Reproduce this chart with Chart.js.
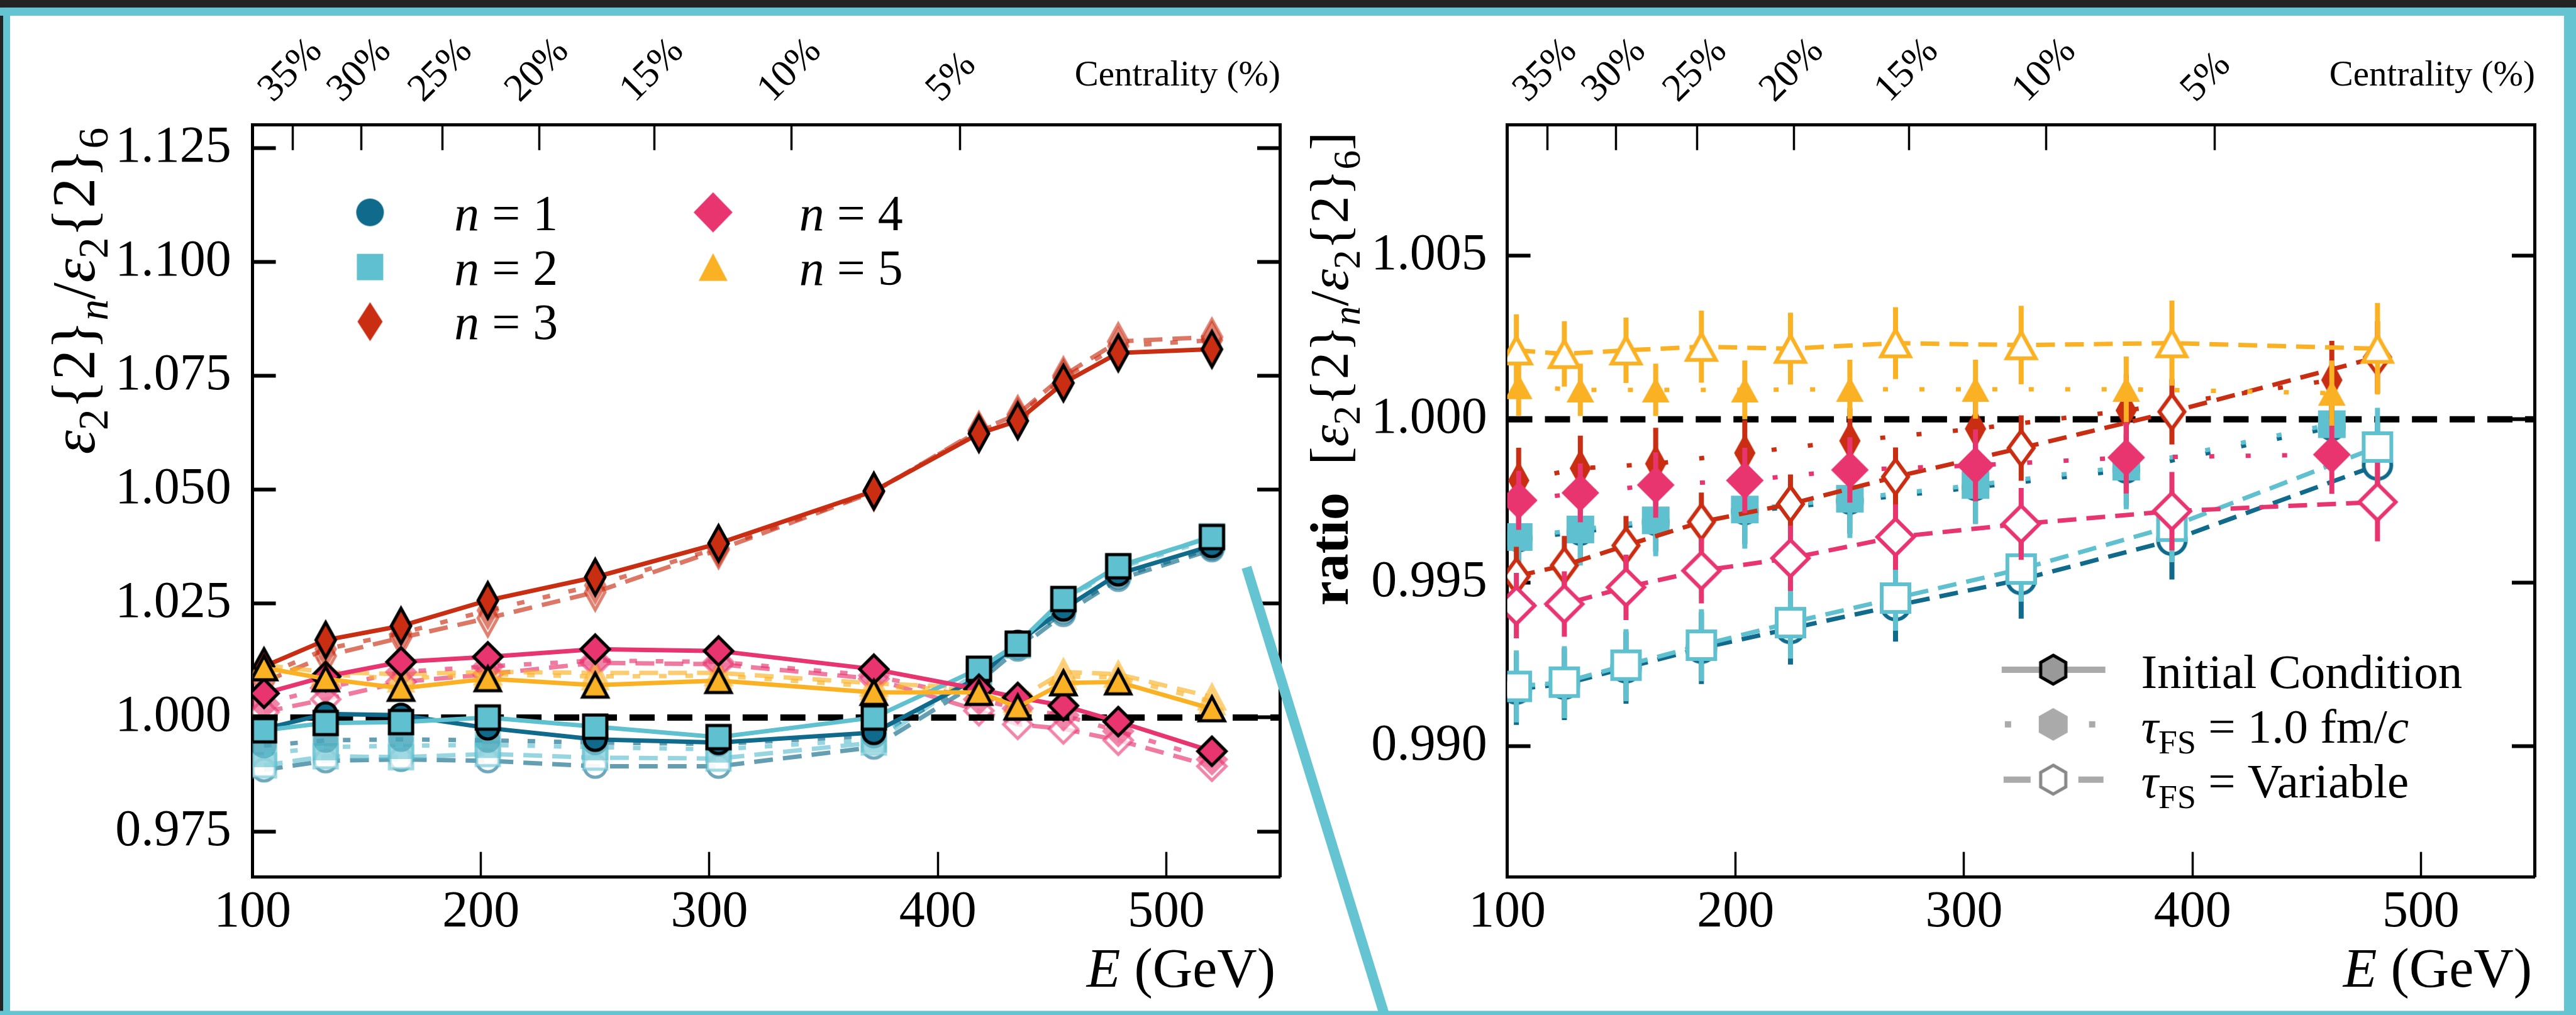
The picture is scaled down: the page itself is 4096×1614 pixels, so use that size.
<!DOCTYPE html>
<html>
<head>
<meta charset="utf-8">
<script src="https://cdn.jsdelivr.net/npm/chart.js@4.4.1/dist/chart.umd.min.js"></script>
<style>
  html, body { margin: 0; padding: 0; background: #fff; overflow: hidden; }
  #wrap { position: relative; width: 4096px; height: 1614px; background: #fff; }
  #wrap canvas { position: absolute; top: 0; }
  #frame { position: absolute; left: 0; top: 0; pointer-events: none; }
</style>
</head>
<body>
<div id="wrap">
  <canvas id="left" width="2065" height="1614" style="left:0px"></canvas>
  <canvas id="right" width="2031" height="1614" style="left:2065px"></canvas>
  <svg id="frame" width="4096" height="1614"></svg>
</div>
<script>
// left panel: eps2{2}_n / eps2{2}_6 vs E
const energy = [105, 132, 165, 203, 250, 304, 372, 418, 435, 455, 479, 520];
const icN1 = [0.9975, 1.0008, 1.0005, 0.9977, 0.9952, 0.9945, 0.9967, 1.0088, 1.0165, 1.0238, 1.0315, 1.0377];
const icN2 = [0.9972, 0.9988, 0.9990, 1.0000, 0.9980, 0.9957, 1.0000, 1.0107, 1.0162, 1.0260, 1.0332, 1.0396];
const icN3 = [1.0112, 1.0170, 1.0201, 1.0257, 1.0308, 1.0382, 1.0497, 1.0623, 1.0651, 1.0734, 1.0800, 1.0808];
const icN4 = [1.0053, 1.0090, 1.0122, 1.0133, 1.0150, 1.0146, 1.0106, 1.0062, 1.0044, 1.0026, 0.9991, 0.9926];
const icN5 = [1.0109, 1.0085, 1.0064, 1.0085, 1.0071, 1.0081, 1.0055, 1.0055, 1.0023, 1.0076, 1.0078, 1.0019];
const tau1N1 = [0.9938, 0.9950, 0.9952, 0.9950, 0.9945, 0.9942, 0.9960, 1.0082, 1.0155, 1.0232, 1.0308, 1.0372];
const tau1N2 = [0.9920, 0.9935, 0.9938, 0.9940, 0.9935, 0.9930, 0.9952, 1.0100, 1.0158, 1.0255, 1.0328, 1.0392];
const tau1N3 = [1.0092, 1.0150, 1.0185, 1.0235, 1.0290, 1.0372, 1.0496, 1.0628, 1.0660, 1.0745, 1.0815, 1.0828];
const tau1N4 = [1.0030, 1.0065, 1.0100, 1.0112, 1.0125, 1.0122, 1.0092, 1.0040, 1.0020, 1.0005, 0.9970, 0.9908];
const tau1N5 = [1.0112, 1.0095, 1.0085, 1.0095, 1.0090, 1.0092, 1.0068, 1.0060, 1.0035, 1.0090, 1.0088, 1.0035];
const varN1 = [0.9885, 0.9905, 0.9908, 0.9905, 0.9893, 0.9893, 0.9935, 1.0078, 1.0150, 1.0226, 1.0303, 1.0368];
const varN2 = [0.9895, 0.9915, 0.9913, 0.9920, 0.9912, 0.9910, 0.9945, 1.0098, 1.0160, 1.0258, 1.0330, 1.0398];
const varN3 = [1.0078, 1.0135, 1.0175, 1.0218, 1.0275, 1.0368, 1.0495, 1.0630, 1.0665, 1.0750, 1.0825, 1.0835];
const varN4 = [1.0012, 1.0040, 1.0078, 1.0095, 1.0120, 1.0117, 1.0085, 1.0015, 0.9985, 0.9975, 0.9950, 0.9893];
const varN5 = [1.0115, 1.0100, 1.0095, 1.0100, 1.0098, 1.0098, 1.0075, 1.0065, 1.0040, 1.0100, 1.0095, 1.0045];

// right panel: ratio to initial condition, with errors
const energyFixed = [105, 132, 165, 204, 250, 305, 371, 461];
const energyVar = [104, 125, 152, 185, 224, 270, 325, 391, 481];
const fixN1 = [0.99635, 0.99655, 0.99685, 0.99718, 0.99750, 0.99792, 0.99845, 0.99975];
const fixN2 = [0.99640, 0.99663, 0.99691, 0.99724, 0.99757, 0.99799, 0.99855, 0.99985];
const fixN3 = [0.99813, 0.99850, 0.99864, 0.99897, 0.99934, 0.99971, 1.00027, 1.00120];
const fixN4 = [0.99752, 0.99775, 0.99799, 0.99813, 0.99845, 0.99859, 0.99883, 0.99892];
const fixN5 = [1.00100, 1.00090, 1.00090, 1.00090, 1.00092, 1.00092, 1.00092, 1.00080];
const fixErrN1 = [0.0009, 0.0009, 0.0009, 0.0010, 0.0010, 0.0011, 0.0011, 0.0012];
const fixErrN2 = [0.0010, 0.0011, 0.0011, 0.0012, 0.0012, 0.0012, 0.0013, 0.0013];
const fixErrN3 = [0.0010, 0.0010, 0.0011, 0.0010, 0.0010, 0.0011, 0.0011, 0.0012];
const fixErrN4 = [0.0009, 0.0009, 0.0010, 0.0010, 0.0010, 0.0011, 0.0011, 0.0012];
const fixErrN5 = [0.0009, 0.0008, 0.0008, 0.0009, 0.0009, 0.0009, 0.0010, 0.0010];
const varRN1 = [0.99175, 0.99190, 0.99240, 0.99300, 0.99360, 0.99430, 0.99510, 0.99630, 0.99860];
const varRN2 = [0.99183, 0.99196, 0.99248, 0.99309, 0.99378, 0.99453, 0.99542, 0.99673, 0.99915];
const varRN3 = [0.99520, 0.99553, 0.99614, 0.99686, 0.99741, 0.99824, 0.99912, 1.00023, 1.00190];
const varRN4 = [0.99430, 0.99435, 0.99486, 0.99537, 0.99575, 0.99640, 0.99680, 0.99719, 0.99747];
const varRN5 = [1.00211, 1.00200, 1.00211, 1.00222, 1.00216, 1.00233, 1.00227, 1.00233, 1.00216];
const varErrN1 = [0.0011, 0.0011, 0.0011, 0.0011, 0.0011, 0.0011, 0.0012, 0.0012, 0.0013];
const varErrN2 = [0.0011, 0.0011, 0.0011, 0.0011, 0.0011, 0.0010, 0.0010, 0.0011, 0.0012];
const varErrN3 = [0.0009, 0.0009, 0.0009, 0.0009, 0.0009, 0.0009, 0.0010, 0.0010, 0.0011];
const varErrN4 = [0.0010, 0.0010, 0.0010, 0.0010, 0.0010, 0.0010, 0.0011, 0.0012, 0.0012];
const varErrN5 = [0.0011, 0.0010, 0.0010, 0.0011, 0.0011, 0.0011, 0.0012, 0.0013, 0.0014];

// axes
const energyRange = [100, 550];
const energyTicks = [100, 200, 300, 400, 500];
const centralityE = [117.5, 147.7, 183.2, 225.5, 275.8, 336.0, 409.8];
const centralityLabels = ['35%', '30%', '25%', '20%', '15%', '10%', '5%'];
const leftRange = [0.965, 1.130];
const leftTicks = [0.975, 1.000, 1.025, 1.050, 1.075, 1.100, 1.125];
const rightRange = [0.986, 1.009];
const rightTicks = [0.990, 0.995, 1.000, 1.005];
const unity = 1.0;

const S = 0.999;
const SERIF = '"Liberation Serif", "DejaVu Serif", serif';
const colors = ['#0f6a8b', '#5fc0cf', '#c92d12', '#e8346f', '#fbb124'];
const shapes = ['o', 's', 'd', 'D', '^'];

function rgba(hex, a) {
  const n = parseInt(hex.slice(1), 16);
  return `rgba(${n >> 16},${(n >> 8) & 255},${n & 255},${a})`;
}

// marker bitmaps, w/h are the path size in px
function mk(shape, w, h, fill, stroke, lw) {
  w *= S; h *= S; lw = (lw || 0) * S;
  const pad = lw * 2 + 4;
  const c = document.createElement('canvas');
  c.width = Math.ceil(w + pad * 2);
  c.height = Math.ceil(h + pad * 2);
  const g = c.getContext('2d');
  const cx = c.width / 2, cy = c.height / 2, rx = w / 2, ry = h / 2;
  g.beginPath();
  if (shape === 'o') g.ellipse(cx, cy, rx, ry, 0, 0, Math.PI * 2);
  else if (shape === 's') g.rect(cx - rx, cy - ry, w, h);
  else if (shape === 'd' || shape === 'D') {
    g.moveTo(cx, cy - ry); g.lineTo(cx + rx, cy); g.lineTo(cx, cy + ry); g.lineTo(cx - rx, cy); g.closePath();
  } else if (shape === '^') {
    g.moveTo(cx, cy - ry); g.lineTo(cx + rx, cy + ry); g.lineTo(cx - rx, cy + ry); g.closePath();
  } else if (shape === 'h') {
    for (let k = 0; k < 6; k++) {
      const a = -Math.PI / 2 + k * Math.PI / 3;
      g.lineTo(cx + rx * Math.cos(a) / Math.cos(Math.PI / 6), cy + ry * Math.sin(a));
    }
    g.closePath();
  }
  if (fill) { g.fillStyle = fill; g.fill(); }
  if (stroke && lw) { g.lineWidth = lw; g.strokeStyle = stroke; g.lineJoin = 'miter'; g.stroke(); }
  return c;
}

const sizeIC = { o: [35, 35], s: [37, 37], d: [31, 56], D: [45, 45], '^': [40, 38] };
const sizeFill = { o: [40, 40], s: [42, 42], d: [36, 64], D: [52, 52], '^': [46, 44] };
const sizeRFill = { o: [44, 44], s: [44, 44], d: [34, 62], D: [60, 60], '^': [44, 40] };
const sizeRHollow = { o: [44, 44], s: [44, 44], d: [40, 55], D: [58, 58], '^': [46, 42] };
const sizeLegend = { o: [44, 44], s: [42, 42], d: [40, 62], D: [62, 64], '^': [46, 44] };

function pts(xs, ys) { return xs.map((x, i) => ({ x: x, y: ys[i] })); }

function lineSet(xs, ys, color, dash, marker, extra) {
  return Object.assign({
    data: pts(xs, ys), borderColor: color, borderWidth: 7 * S, borderDash: dash,
    borderCapStyle: 'butt', pointStyle: marker, pointRadius: 20, tension: 0, fill: false,
    xAxisID: 'x', yAxisID: 'y'
  }, extra || {});
}

function refLine() {
  return {
    data: [{ x: energyRange[0], y: unity }, { x: energyRange[1], y: unity }],
    borderColor: '#000', borderWidth: 10 * S, borderDash: [40 * S, 20 * S], borderCapStyle: 'butt',
    pointRadius: 0, tension: 0, fill: false, xAxisID: 'x', yAxisID: 'y'
  };
}

// ---------- left datasets (bottom -> top) ----------
const icL = [icN1, icN2, icN3, icN4, icN5];
const tauL = [tau1N1, tau1N2, tau1N3, tau1N4, tau1N5];
const varL = [varN1, varN2, varN3, varN4, varN5];
const leftSets = [];
varL.forEach((ys, i) => {
  const sh = shapes[i], sz = sizeIC[sh];
  leftSets.push(lineSet(energy, ys, rgba(colors[i], 0.65), [30 * S, 16 * S],
    mk(sh, sz[0], sz[1], 'rgba(255,255,255,0.75)', rgba(colors[i], 0.6), 5)));
});
tauL.forEach((ys, i) => {
  const sh = shapes[i], sz = sizeFill[sh];
  leftSets.push(lineSet(energy, ys, rgba(colors[i], 0.65), [12 * S, 30 * S],
    mk(sh, sz[0], sz[1], rgba(colors[i], 0.6), null, 0)));
});
leftSets.push(refLine());
icL.forEach((ys, i) => {
  const sh = shapes[i], sz = sizeIC[sh];
  leftSets.push(lineSet(energy, ys, colors[i], [], mk(sh, sz[0], sz[1], colors[i], '#000', 5)));
});
leftSets.forEach((d, i) => { d.order = leftSets.length - i; });

// ---------- right datasets (bottom -> top) ----------
const fixR = [fixN1, fixN2, fixN3, fixN4, fixN5];
const fixErr = [fixErrN1, fixErrN2, fixErrN3, fixErrN4, fixErrN5];
const varR = [varRN1, varRN2, varRN3, varRN4, varRN5];
const varErr = [varErrN1, varErrN2, varErrN3, varErrN4, varErrN5];
const rightSets = [refLine()];
for (let i = 0; i < 5; i++) {
  const sh = shapes[i];
  const f = sizeRFill[sh], h = sizeRHollow[sh];
  rightSets.push(lineSet(energyFixed, fixR[i], colors[i], [8 * S, 50 * S],
    mk(sh, f[0], f[1], colors[i], null, 0), { errors: fixErr[i] }));
  rightSets.push(lineSet(energyVar, varR[i], colors[i], [30 * S, 16 * S],
    mk(sh, h[0], h[1], '#fff', colors[i], 6), { errors: varErr[i] }));
}
rightSets.forEach((d, i) => { d.order = rightSets.length - i; });

// ---------- plugins ----------
const errorBars = {
  id: 'errorBars',
  beforeDatasetDraw(chart, args) {
    const ds = chart.data.datasets[args.index];
    if (!ds.errors) return;
    const { ctx, chartArea: a } = chart;
    const xs = chart.scales.x, ys = chart.scales.y;
    ctx.save();
    ctx.beginPath();
    ctx.rect(a.left, a.top, a.right - a.left, a.bottom - a.top);
    ctx.clip();
    ctx.strokeStyle = ds.borderColor;
    ctx.lineWidth = 8 * S;
    ctx.setLineDash([]);
    ds.data.forEach((p, i) => {
      const px = xs.getPixelForValue(p.x);
      ctx.beginPath();
      ctx.moveTo(px, ys.getPixelForValue(p.y - ds.errors[i]));
      ctx.lineTo(px, ys.getPixelForValue(p.y + ds.errors[i]));
      ctx.stroke();
    });
    ctx.restore();
  }
};

function drawRich(ctx, parts, x, y, size, align) {
  let w = 0;
  const m = parts.map(p => {
    const fs = p.sub ? size * 0.7 : size;
    const font = `${p.st || 'normal'} ${fs}px ${SERIF}`;
    ctx.font = font;
    const pw = ctx.measureText(p.t).width;
    w += pw;
    return { t: p.t, font: font, pw: pw, dy: p.sub ? size * 0.22 : 0 };
  });
  let cx = align === 'right' ? x - w : align === 'center' ? x - w / 2 : x;
  m.forEach(p => { ctx.font = p.font; ctx.fillText(p.t, cx, y + p.dy); cx += p.pw; });
  return w;
}

function richWidth(ctx, parts, size) {
  let w = 0;
  parts.forEach(p => {
    ctx.font = `${p.st || 'normal'} ${p.sub ? size * 0.7 : size}px ${SERIF}`;
    w += ctx.measureText(p.t).width;
  });
  return w;
}

const epsRatio = [
  { t: 'ε', st: 'italic' }, { t: '2', sub: 1 }, { t: '{2}' }, { t: 'n', st: 'italic', sub: 1 },
  { t: '/' }, { t: 'ε', st: 'italic' }, { t: '2', sub: 1 }, { t: '{2}' }, { t: '6', sub: 1 }
];
const eTitle = [{ t: 'E', st: 'italic' }, { t: ' (GeV)' }];

function vTitle(ctx, parts, bx, cy, target) {
  const size = 90 * S * target * S / richWidth(ctx, parts, 90 * S);
  ctx.save();
  ctx.translate(bx, cy);
  ctx.rotate(-Math.PI / 2);
  drawRich(ctx, parts, 0, 0, size, 'center');
  ctx.restore();
}

const leftDecor = {
  id: 'leftDecor',
  afterDraw(chart) {
    const ctx = chart.ctx;
    ctx.save();
    ctx.fillStyle = '#000';
    ctx.textBaseline = 'alphabetic';
    vTitle(ctx, epsRatio, 150 * S, 463 * S, 520);
    drawRich(ctx, eTitle, 2030 * S, 1571 * S, 88 * S, 'right');
    // legend, two columns
    const cols = [[589, 723], [1135, 1272]];
    const rows = [[338, 366], [425, 453], [512, 540]];
    for (let i = 0; i < 5; i++) {
      const c = cols[Math.floor(i / 3)], r = rows[i % 3];
      const sz = sizeLegend[shapes[i]];
      const img = mk(shapes[i], sz[0], sz[1], colors[i], null, 0);
      ctx.drawImage(img, c[0] * S - img.width / 2, r[0] * S - img.height / 2);
      drawRich(ctx, [{ t: 'n', st: 'italic' }, { t: ' = ' + (i + 1) }], c[1] * S, r[1] * S, 80 * S, 'left');
    }
    ctx.restore();
  }
};

const OFF = 2065;
const rightDecor = {
  id: 'rightDecor',
  afterDraw(chart) {
    const ctx = chart.ctx;
    ctx.save();
    ctx.fillStyle = '#000';
    ctx.textBaseline = 'alphabetic';
    const parts = [{ t: 'ratio', st: 'bold' }, { t: '  [' }].concat(epsRatio, [{ t: ']' }]);
    vTitle(ctx, parts, 2145 * S - OFF, 587 * S, 754);
    drawRich(ctx, eTitle, 4030 * S - OFF, 1571 * S, 88 * S, 'right');
    // legend
    const mx = 3268 * S - OFF, tx = 3408 * S - OFF;
    const gray = '#aaaaaa';
    ctx.fillStyle = gray;
    ctx.strokeStyle = gray;
    ctx.lineWidth = 10 * S;
    let y = 1066 * S;
    ctx.beginPath(); ctx.moveTo(3186 * S - OFF, y); ctx.lineTo(3351 * S - OFF, y); ctx.stroke();
    let img = mk('h', 40, 46, '#999999', '#000', 5);
    ctx.drawImage(img, mx - img.width / 2, y - img.height / 2);
    y = 1153 * S;
    ctx.fillRect(3191 * S - OFF, y - 5 * S, 10 * S, 10 * S);
    ctx.fillRect(3325 * S - OFF, y - 5 * S, 10 * S, 10 * S);
    img = mk('h', 46, 52, gray, null, 0);
    ctx.drawImage(img, mx - img.width / 2, y - img.height / 2);
    y = 1241 * S;
    ctx.beginPath(); ctx.moveTo(3189 * S - OFF, y); ctx.lineTo(3232 * S - OFF, y); ctx.stroke();
    ctx.beginPath(); ctx.moveTo(3308 * S - OFF, y); ctx.lineTo(3348 * S - OFF, y); ctx.stroke();
    img = mk('h', 40, 46, '#ffffff', '#888888', 5);
    ctx.drawImage(img, mx - img.width / 2, y - img.height / 2);
    ctx.fillStyle = '#000';
    const ls = 77 * S;
    drawRich(ctx, [{ t: 'Initial Condition' }], tx, 1095 * S, ls, 'left');
    drawRich(ctx, [{ t: 'τ', st: 'italic' }, { t: 'FS', sub: 1 }, { t: ' = 1.0 fm/' }, { t: 'c', st: 'italic' }], tx, 1182 * S, ls, 'left');
    drawRich(ctx, [{ t: 'τ', st: 'italic' }, { t: 'FS', sub: 1 }, { t: ' = Variable' }], tx, 1269 * S, ls, 'left');
    ctx.restore();
  }
};

// ---------- scales ----------
function makeScales(range, ticks, yWidth, yPad) {
  const tickFont = { family: SERIF, size: 82 * S };
  const grid = (len, w) => ({ drawOnChartArea: false, tickLength: -len * S, tickWidth: w * S, tickColor: '#000' });
  const border = { display: true, width: 5 * S, color: '#000' };
  return {
    x: {
      type: 'linear', axis: 'x', position: 'bottom', min: energyRange[0], max: energyRange[1],
      afterBuildTicks: s => { s.ticks = energyTicks.map(v => ({ value: v })); },
      afterFit: s => { s.height = 1614 - 1396 * S; },
      ticks: { font: tickFont, color: '#000', padding: 48 * S, autoSkip: false, maxRotation: 0, callback: v => String(v) },
      grid: grid(40, 3.5), border: border
    },
    top: {
      type: 'linear', axis: 'x', position: 'top', min: energyRange[0], max: energyRange[1],
      afterBuildTicks: s => { s.ticks = centralityE.map(v => ({ value: v })); },
      afterFit: s => { s.height = 199 * S; },
      ticks: {
        font: { family: SERIF, size: 62 * S }, color: '#000', padding: 60 * S, autoSkip: false,
        minRotation: 45, maxRotation: 45, labelOffset: 10 * S, callback: (v, i) => centralityLabels[i]
      },
      grid: grid(40, 3.5), border: border,
      title: { display: true, text: 'Centrality (%)', align: 'end', color: '#000', font: { family: SERIF, size: 57 * S }, padding: { top: 87 * S, bottom: 0 } }
    },
    y: {
      type: 'linear', axis: 'y', position: 'left', min: range[0], max: range[1],
      afterBuildTicks: s => { s.ticks = ticks.map(v => ({ value: v })); },
      afterFit: s => { s.width = yWidth; },
      ticks: { font: tickFont, color: '#000', padding: yPad, callback: v => v.toFixed(3) },
      grid: grid(37, 6), border: border
    },
    yr: {
      type: 'linear', axis: 'y', position: 'right', min: range[0], max: range[1],
      afterBuildTicks: s => { s.ticks = ticks.map(v => ({ value: v })); },
      afterFit: s => { s.width = 0; },
      ticks: { display: false },
      grid: grid(37, 6), border: border
    }
  };
}

function makeChart(id, datasets, scales, padRight, plugins) {
  return new Chart(document.getElementById(id), {
    type: 'line',
    data: { datasets: datasets },
    options: {
      responsive: false, animation: false, events: [],
      layout: { padding: { left: 0, top: 0, right: padRight, bottom: 0 } },
      plugins: { legend: { display: false }, tooltip: { enabled: false } },
      scales: scales
    },
    plugins: plugins
  });
}

makeChart('left', leftSets, makeScales(leftRange, leftTicks, 402 * S, 71 * S),
  2065 - 2038 * S, [errorBars, leftDecor]);
makeChart('right', rightSets, makeScales(rightRange, rightTicks, 2399 * S - OFF, 69 * S),
  2031 - (4035 * S - OFF), [errorBars, rightDecor]);

// slide frame and the zoom connector
const teal = '#64c4d2';
const svg = document.getElementById('frame');
svg.innerHTML =
  `<rect x="0" y="0" width="4096" height="${12 * S}" fill="#232323"/>` +
  `<rect x="0" y="0" width="${5 * S}" height="1614" fill="#232323"/>` +
  `<rect x="0" y="${12 * S}" width="4096" height="${13 * S}" fill="${teal}"/>` +
  `<rect x="${5 * S}" y="${12 * S}" width="${11 * S}" height="1614" fill="${teal}"/>` +
  `<rect x="${4081 * S}" y="${12 * S}" width="20" height="1614" fill="${teal}"/>` +
  `<rect x="0" y="${1609 * S}" width="4096" height="10" fill="${teal}"/>` +
  `<line x1="${1984 * S}" y1="${903 * S}" x2="${2205 * S}" y2="${1620 * S}" stroke="${teal}" stroke-width="${16 * S}"/>`;
</script>
</body>
</html>
